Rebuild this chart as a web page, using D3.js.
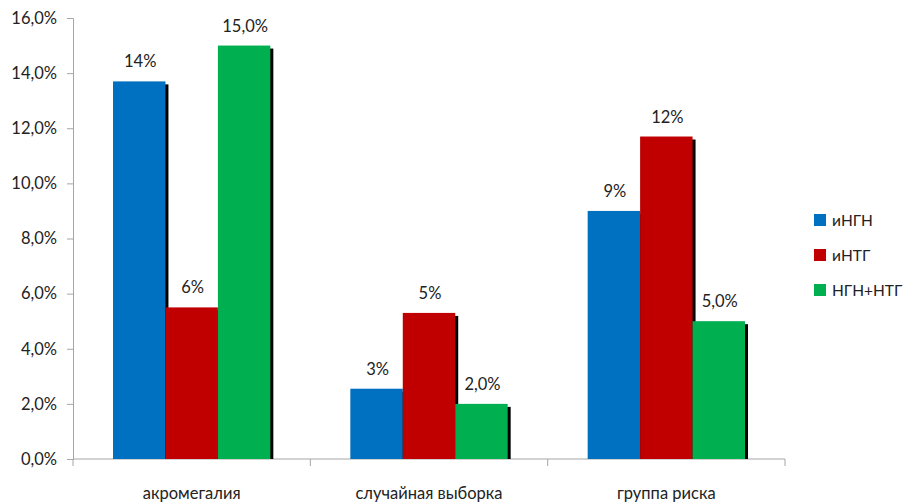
<!DOCTYPE html>
<html>
<head>
<meta charset="utf-8">
<script src="https://cdn.jsdelivr.net/npm/d3@7"></script>
<style>
  body { margin: 0; background: #fff; }
  text { font-family: Lato, "Open Sans", sans-serif; fill: #222; }
</style>
</head>
<body>
<svg id="chart" width="903" height="504"></svg>
<script>
// Categories and series
var categories = ["акромегалия", "случайная выборка", "группа риска"];
var seriesNames = ["иНГН", "иНТГ", "НГН+НТГ"];
var seriesColors = ["#0070C0", "#C00000", "#00B050"];
// Values in percent, per series (same order as categories)
var valuesINGN = [13.7, 2.55, 9.0];
var valuesINTG = [5.5, 5.3, 11.7];
var valuesNGNNTG = [15.0, 2.0, 5.0];
// Label formats: first two series rounded, third with one decimal
var labelDecimals = [0, 0, 1];
var yTicks = [0, 2, 4, 6, 8, 10, 12, 14, 16];

var series = [valuesINGN, valuesINTG, valuesNGNNTG];

var svg = d3.select("#chart");
// plot area edges (avoid the name "top", it is window.top)
var plotLeft = 73, plotRight = 785, plotTop = 18, plotBottom = 459;

var y = d3.scaleLinear().domain([0, 16]).range([plotBottom, plotTop]);
var x0 = d3.scaleBand().domain(categories).range([plotLeft, plotRight]).padding(0);
var x1 = d3.scaleBand().domain(d3.range(series.length))
    .range([40, x0.bandwidth() - 40]).padding(0);

function fmt(v, d)
{
    return v.toFixed(d).replace(".", ",") + "%";
}

// Y axis
var yAxis = svg.append("g")
    .attr("transform", "translate(" + plotLeft + ",0)")
    .call(d3.axisLeft(y).tickValues(yTicks).tickSize(6).tickPadding(10)
        .tickFormat(function(d) { return fmt(d, 1); }));
yAxis.selectAll("path, line").attr("stroke", "#a6a6a6");
yAxis.selectAll("text").attr("font-size", 16.5).attr("fill", "#222")
    .style("font-family", "Lato, 'Open Sans', sans-serif");

// X axis with ticks at category boundaries
var xg = svg.append("g").attr("transform", "translate(0," + plotBottom + ")");
xg.append("line").attr("x1", plotLeft).attr("x2", plotRight).attr("stroke", "#a6a6a6");
var bounds = categories.map(function(c) { return x0(c); }).concat([plotRight]);
xg.selectAll("line.tk").data(bounds).enter().append("line")
    .attr("class", "tk")
    .attr("x1", function(d) { return d; }).attr("x2", function(d) { return d; })
    .attr("y1", 0).attr("y2", 7).attr("stroke", "#a6a6a6");
xg.selectAll("text").data(categories).enter().append("text")
    .attr("x", function(d) { return x0(d) + x0.bandwidth() / 2; })
    .attr("y", 40)
    .attr("text-anchor", "middle")
    .attr("font-size", 16.5)
    .text(function(d) { return d; });

// Bars
series.forEach(function(vals, s)
{
    var g = svg.append("g");
    vals.forEach(function(v, i)
    {
        var bx = x0(categories[i]) + x1(s);
        var by = y(v);
        var bw = x1.bandwidth();
        var bh = plotBottom - by;
        // shadow
        g.append("rect")
            .attr("x", bx + 3).attr("y", by + 3)
            .attr("width", bw).attr("height", Math.max(0, bh - 3))
            .attr("fill", "#000");
        g.append("rect")
            .attr("x", bx).attr("y", by)
            .attr("width", bw).attr("height", bh)
            .attr("fill", seriesColors[s]);
        g.append("text")
            .attr("x", bx + bw / 2 + 1)
            .attr("y", by - 14)
            .attr("text-anchor", "middle")
            .attr("font-size", 16.5)
            .text(fmt(v, labelDecimals[s]));
    });
});

// Legend
var legend = svg.append("g").attr("transform", "translate(814,214)");
seriesNames.forEach(function(name, i)
{
    var row = legend.append("g").attr("transform", "translate(0," + (i * 35) + ")");
    row.append("rect").attr("width", 12).attr("height", 12).attr("fill", seriesColors[i]);
    row.append("text").attr("x", 18).attr("y", 11.5)
        .attr("font-size", 15.5).text(name);
});
</script>
</body>
</html>
